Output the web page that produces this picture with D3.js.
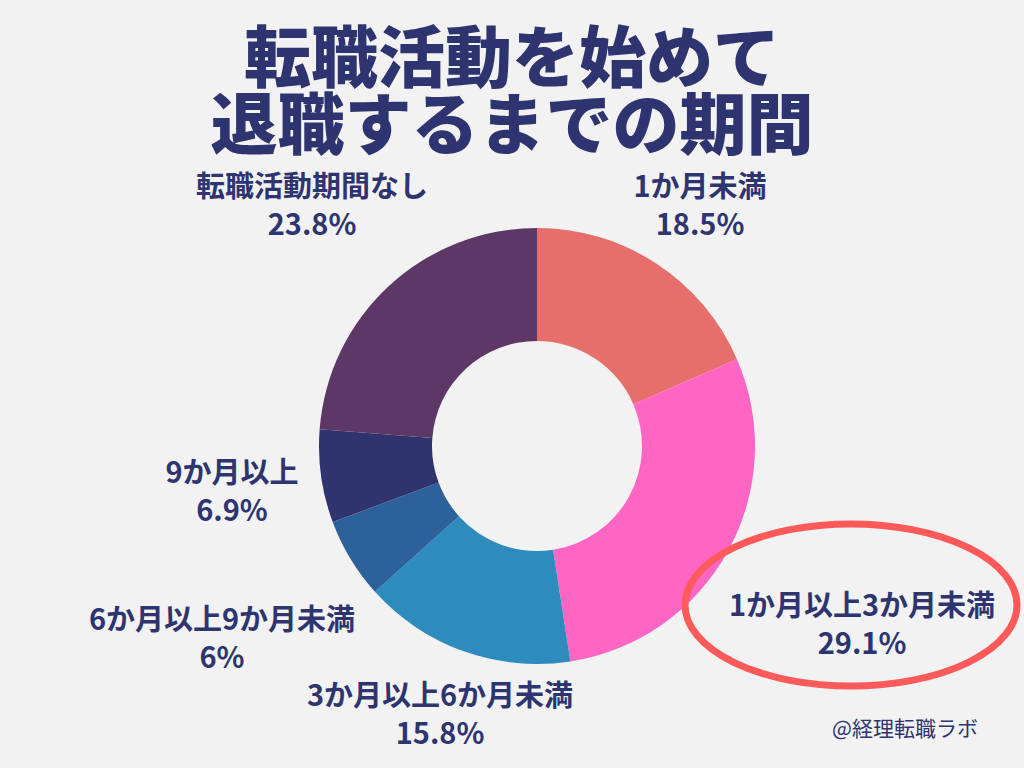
<!DOCTYPE html>
<html>
<head>
<meta charset="utf-8">
<script src="https://cdn.jsdelivr.net/npm/d3@7"></script>
<style>
  body { margin: 0; background: #f2f2f2; }
  svg { display: block; font-family: "Noto Sans CJK JP", "Noto Sans", sans-serif; }
</style>
</head>
<body>
<svg id="chart" width="1024" height="768"></svg>
<script>
// data
const categories = ['1か月未満', '1か月以上3か月未満', '3か月以上6か月未満', '6か月以上9か月未満', '9か月以上', '転職活動期間なし'];
const values = [18.5, 29.1, 15.8, 6, 6.9, 23.8];
const colors = ['#e66e6b', '#ff66c4', '#2e8bbe', '#2d6199', '#2f336e', '#5d3766'];
const titleLines = ['転職活動を始めて', '退職するまでの期間'];

// label placement (center x, first baseline)
const labelPos = [
  {x: 700, y: 197},
  {x: 862, y: 616},
  {x: 440, y: 706},
  {x: 222, y: 630},
  {x: 232, y: 483},
  {x: 312, y: 197}
];

const textColor = '#2e3470';
const svg = d3.select('#chart');

svg.append('rect')
    .attr('width', 1024)
    .attr('height', 768)
    .attr('fill', '#f2f2f2');

// title
svg.selectAll('.title')
  .data(titleLines)
  .join('text')
    .attr('class', 'title')
    .attr('x', 512)
    .attr('y', (d, i) => 82 + i * 67)
    .attr('text-anchor', 'middle')
    .attr('font-size', 67)
    .attr('font-weight', 900)
    .attr('fill', textColor)
    .text(d => d);

// donut
const data = categories.map((c, i) => ({name: c, value: values[i], color: colors[i]}));
const pie = d3.pie().sort(null).value(d => d.value);
const arc = d3.arc().innerRadius(105).outerRadius(218);

const g = svg.append('g')
    .attr('transform', 'translate(537,446)');

g.selectAll('path')
  .data(pie(data))
  .join('path')
    .attr('d', arc)
    .attr('fill', d => d.data.color);

// highlight ellipse
svg.append('ellipse')
    .attr('cx', 851)
    .attr('cy', 605)
    .attr('rx', 166)
    .attr('ry', 81)
    .attr('fill', 'none')
    .attr('stroke', '#ff5a5a')
    .attr('stroke-width', 7);

// labels
const labels = svg.selectAll('.label')
  .data(data)
  .join('text')
    .attr('class', 'label')
    .attr('text-anchor', 'middle')
    .attr('font-size', 29)
    .attr('font-weight', 700)
    .attr('fill', textColor);

labels.append('tspan')
    .attr('x', (d, i) => labelPos[i].x)
    .attr('y', (d, i) => labelPos[i].y)
    .text(d => d.name);

labels.append('tspan')
    .attr('x', (d, i) => labelPos[i].x)
    .attr('y', (d, i) => labelPos[i].y + 38)
    .text(d => d.value + '%');

// credit
svg.append('text')
    .attr('x', 905)
    .attr('y', 736)
    .attr('text-anchor', 'middle')
    .attr('font-size', 21)
    .attr('fill', textColor)
    .text('@経理転職ラボ');
</script>
</body>
</html>
